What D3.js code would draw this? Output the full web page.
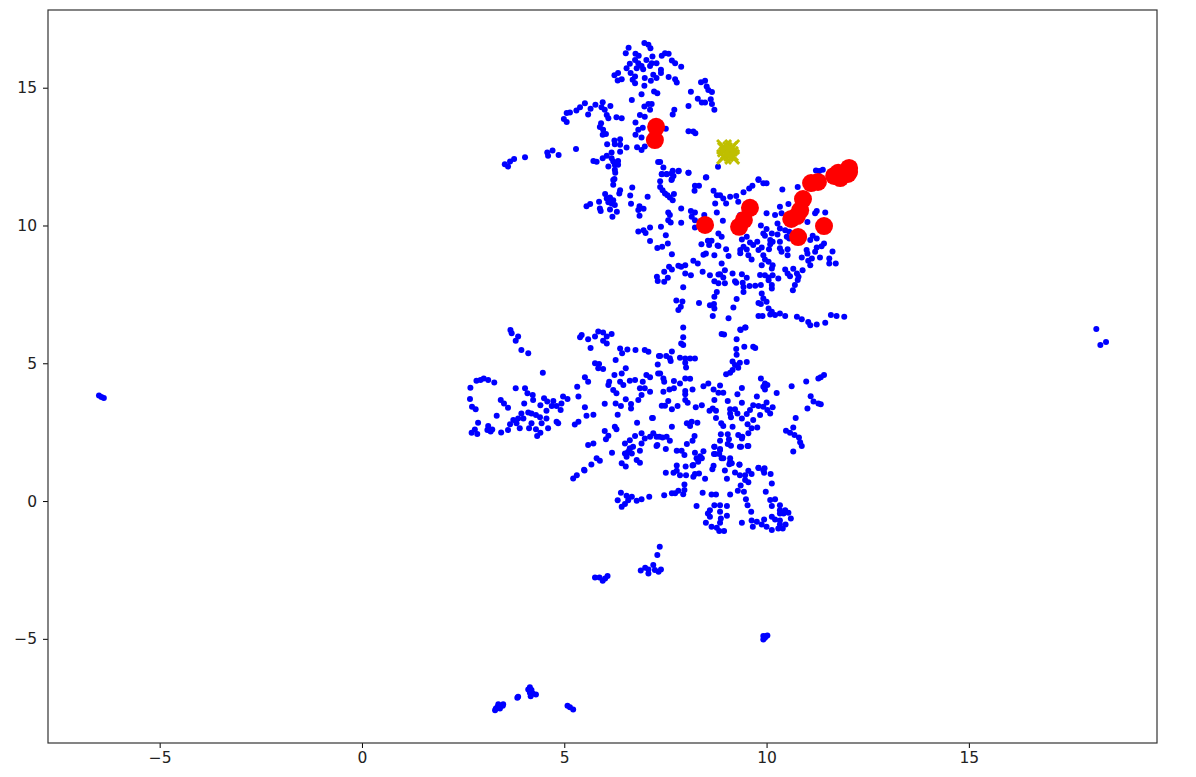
<!DOCTYPE html>
<html>
<head>
<meta charset="utf-8">
<script src="https://cdn.jsdelivr.net/npm/d3@7"></script>
<style>
body { margin: 0; background: #fff; }
text { font-family: "DejaVu Sans", sans-serif; }
</style>
</head>
<body>
<script>
// values, grouped by area of the plot
let xTicks = [-5, 0, 5, 10, 15];
let yTicks = [-5, 0, 5, 10, 15];

let outliers = [[-6.50,3.83],[-6.44,3.78],[-6.38,3.74],[18.15,6.24],[18.25,5.66],[18.39,5.77]];

let topGroup = [[6.98,16.62],[6.59,16.45],[7.08,16.56],[7.13,16.43],[6.52,16.25],[6.76,16.23],[6.84,16.16],[7.18,16.13],[6.75,16.01],[7.03,16.01],[7.16,15.89],[7.28,15.89],[6.62,15.87],[6.83,15.89],[6.91,15.79],[7.12,15.79],[6.54,15.71],[6.79,15.71],[6.95,15.67],[6.64,15.53],[6.75,15.41],[6.33,15.53],[6.24,15.45],[6.99,15.35],[7.20,15.47],[7.28,15.35],[6.69,15.29],[6.42,15.31],[6.32,15.26],[6.75,15.16],[7.14,15.25],[6.98,15.07],[6.91,14.76],[7.22,14.86],[7.30,14.80],[6.67,14.55],[7.16,14.41],[7.08,14.41],[6.98,14.32],[7.12,14.20],[6.87,14.01],[6.99,13.95],[6.76,13.74],[6.94,13.55],[6.83,13.47],[6.76,13.29],[6.91,13.19],[6.80,12.84],[6.91,12.74],[6.99,12.87],
[7.49,16.25],[7.58,16.23],[7.41,16.16],[7.66,15.99],[7.74,15.89],[7.89,15.76],[7.39,15.65],[7.39,15.53],[7.58,15.39],[7.74,15.31],[7.78,15.19],[8.38,15.20],[8.48,15.25],[8.52,15.04],[8.56,14.92],[8.65,14.84],[8.13,14.85],[8.30,14.60],[8.40,14.46],[8.48,14.46],[8.62,14.58],[8.65,14.41],[8.71,14.20],[8.07,14.34],[7.72,14.20],[7.68,14.03],[7.51,13.51],[8.07,13.42],[8.19,13.41],[8.24,13.35],[8.80,12.13],[7.37,12.30],[7.45,12.10],[7.41,11.87],[7.53,11.87],[7.68,11.99],[7.70,11.80],[7.83,11.99],[8.07,11.91],[8.51,11.75],[9.80,11.68],[11.39,12.02],[11.22,12.00],[11.30,11.98],[7.66,11.69]];

let upperLeftArm = [[5.51,14.44],[5.39,14.29],[5.30,14.17],[5.14,14.10],[5.06,14.08],[4.99,13.86],[5.06,13.76],[5.65,14.24],[5.77,14.38],[5.95,14.47],[5.92,14.29],[6.00,14.20],[6.14,14.34],[6.05,14.01],[6.09,13.89],[5.59,14.03],[6.29,13.93],[6.42,13.89],[5.91,13.71],[5.88,13.57],[5.96,13.47],[5.95,13.29],[6.03,13.32],[6.06,12.95],[6.24,13.08],[6.38,13.13],[6.25,12.95],[6.38,12.93],[6.54,12.83],[6.38,12.68],[6.17,12.65],[6.05,12.53],[5.95,12.44],[5.72,12.34],[5.80,12.31],[6.17,12.44],[6.21,12.32],[6.33,12.34],[6.09,12.14],[6.25,12.20],[6.33,12.20],[6.25,12.02],[6.24,11.69],[5.29,12.78],[4.86,12.56],[4.71,12.72],[4.58,12.65],[4.60,12.53],[4.03,12.48],[3.76,12.41],[3.66,12.32],[3.53,12.22],[3.61,12.14],[7.32,12.30]];

let midLeftGroup = [[6.26,11.91],[6.21,11.65],[6.21,11.48],[6.68,11.38],[6.38,11.28],[6.36,11.16],[6.63,11.09],[7.06,11.04],[6.01,11.14],[6.05,10.98],[6.13,11.02],[6.21,10.92],[5.86,10.86],[6.09,10.84],[6.17,10.80],[6.25,10.74],[5.64,10.78],[5.55,10.70],[5.88,10.62],[5.90,10.53],[6.13,10.58],[6.30,10.50],[6.19,10.32],[6.65,10.79],[6.86,10.70],[6.96,10.61],[6.83,10.56],[6.86,10.35],[7.12,9.93],[6.83,9.78],[6.96,9.83],[7.01,9.73],[7.39,9.95],[7.51,9.65],[7.12,9.44],[7.56,9.35],[7.30,9.18],[7.42,9.23],[7.66,8.96],[7.57,10.47],[7.61,10.38],[7.57,10.19],[7.63,10.11],[7.89,10.62],[7.89,10.10],[8.13,10.53],[8.23,10.47],[8.15,10.32],[8.23,10.19],[8.46,10.38],[8.23,9.93],[8.77,10.47],[7.41,11.86],[7.53,11.86],[7.65,11.89],[7.82,11.97],[8.07,11.91],[8.50,11.74],[7.65,11.65],[7.37,11.61],[7.37,11.40],[7.43,11.28],[7.49,11.16],[7.55,11.10],[7.71,11.14],[7.61,11.02],[7.68,10.92],[8.23,11.44],[8.33,11.44],[8.22,11.26],[8.69,11.26],[8.77,11.10],[8.73,10.80],[8.39,9.32],[8.55,9.45],[8.64,9.45],[8.58,9.29],[8.79,9.27],[8.44,8.94],[8.50,8.98],[8.71,8.92],[8.19,8.72],[8.30,8.62],[7.82,8.54],[7.99,8.56],[7.89,8.50],[7.59,8.50],[7.66,8.40],[7.47,8.32],[7.99,8.26],[8.13,8.19],[8.42,8.32],[8.60,8.19],[8.81,8.22],[7.29,8.14],[7.31,7.99],[7.56,8.10],[7.47,7.96],[8.71,7.98],[8.81,7.90],[7.94,7.76],[7.77,7.28],[7.92,7.24],[7.88,7.05],[7.82,6.93],[8.33,7.19],[8.77,7.59],[8.71,7.41],[8.60,7.11],[8.70,7.15],[8.71,6.99],[8.67,6.72]];

let midRightGroup = [[9.80,11.65],[9.92,11.53],[10.00,11.53],[9.65,11.44],[9.57,11.34],[9.43,11.21],[10.39,11.31],[10.77,11.40],[8.85,11.10],[8.93,10.98],[9.10,11.04],[9.25,11.07],[9.30,10.86],[9.00,10.80],[8.92,10.17],[9.35,10.38],[10.00,10.44],[10.21,10.38],[10.33,10.68],[10.54,10.78],[10.37,10.44],[11.24,10.53],[11.45,10.47],[11.20,10.44],[11.01,10.13],[10.27,10.07],[10.33,9.89],[9.86,10.00],[10.00,9.87],[9.92,9.71],[9.96,9.63],[10.13,9.71],[10.27,9.67],[10.46,9.83],[10.56,9.77],[10.50,9.59],[10.56,9.53],[9.39,9.49],[9.51,9.59],[9.59,9.38],[9.67,9.29],[9.77,9.41],[10.09,9.47],[10.15,9.41],[10.09,9.32],[10.33,9.41],[8.81,9.71],[8.89,9.59],[8.81,9.26],[9.00,9.14],[9.43,9.23],[9.35,9.11],[9.35,8.99],[9.51,9.13],[9.55,8.92],[9.63,8.77],[9.80,9.11],[9.88,9.20],[9.92,8.92],[10.06,9.14],[9.96,8.77],[10.05,8.68],[10.33,9.17],[10.37,9.05],[10.52,9.14],[10.52,8.92],[11.14,9.63],[11.24,9.53],[11.08,9.47],[11.42,9.35],[11.36,9.25],[11.24,9.20],[11.20,9.05],[10.99,9.11],[11.01,8.98],[10.87,8.84],[11.12,8.80],[11.03,8.72],[11.32,8.84],[11.63,9.06],[11.55,8.80],[11.55,8.62],[11.71,8.62],[11.08,8.56],[10.89,8.38],[10.46,8.40],[10.52,8.26],[10.58,8.16],[10.66,8.43],[10.75,8.26],[10.79,8.14],[10.77,8.02],[10.70,7.84],[10.65,7.65],[9.84,8.20],[9.96,8.19],[10.05,8.11],[10.15,8.19],[10.29,8.08],[10.05,8.01],[10.13,7.84],[10.13,7.71],[9.88,8.56],[10.15,8.56],[10.13,8.44],[9.39,8.23],[9.51,8.10],[9.41,7.92],[9.43,7.77],[9.58,7.80],[9.72,7.81],[9.86,7.84],[9.43,7.59],[9.26,7.33],[9.18,7.02],[9.06,6.63],[8.89,8.62],[9.06,8.89],[8.85,8.23],[8.97,8.38],[8.93,8.11],[8.97,7.90],[9.16,8.26],[9.22,7.98],[9.25,7.92],[9.88,7.53],[9.92,7.35],[9.80,7.19],[9.86,7.15],[10.00,7.23],[10.05,6.99],[10.13,6.87],[10.21,6.75],[10.33,6.81],[10.46,6.72],[9.80,6.72],[9.90,6.72],[10.09,6.77],[10.75,6.69],[10.87,6.60],[11.03,6.50],[11.08,6.38],[11.24,6.41],[11.45,6.47],[11.59,6.75],[11.73,6.72],[11.92,6.69],[9.47,6.30],[9.35,6.23]];

let lowerLeftGroup = [[3.67,6.21],[3.70,6.09],[3.86,5.97],[3.80,5.82],[3.94,5.48],[4.11,5.36],[4.47,4.66],[5.39,5.94],[5.43,6.03],[5.59,5.87],[5.76,5.97],[5.84,6.15],[5.96,6.12],[6.17,6.06],[6.05,5.97],[5.96,5.82],[6.05,5.72],[5.65,5.55],[5.76,5.00],[5.86,4.97],[5.84,4.82],[5.96,4.79],[6.27,5.12],[6.38,5.54],[6.43,5.36],[6.56,5.50],[6.76,5.48],[6.99,5.48],[7.08,5.42],[7.34,5.26],[7.31,4.96],[7.32,4.63],[6.52,4.82],[6.42,4.63],[6.24,4.57],[5.51,4.49],[5.59,4.33],[6.11,4.33],[6.09,4.21],[6.38,4.33],[6.46,4.21],[6.62,4.37],[6.75,4.39],[6.94,4.33],[7.03,4.57],[7.12,4.49],[6.87,4.09],[6.99,4.09],[7.12,3.97],[6.91,3.85],[6.83,3.67],[6.52,3.69],[6.65,3.52],[6.65,3.36],[6.21,4.03],[6.29,3.91],[5.32,4.15],[5.35,3.79],[6.00,3.53],[6.27,3.54],[6.40,3.45],[5.51,3.40],[5.55,3.10],[5.72,3.13],[6.32,3.13],[6.80,2.84],[7.17,3.01],[5.35,2.88],[5.26,2.78],[6.25,2.70],[6.29,2.61],[6.00,2.54],[6.09,2.37],[6.03,2.24],[5.59,2.03],[5.72,2.09],[6.18,1.75],[5.80,1.55],[5.88,1.46],[5.67,1.33],[5.49,1.14],[6.42,1.37],[6.52,1.25],[6.54,1.73],[6.62,1.91],[6.70,1.97],[6.50,2.09],[6.62,2.21],[6.75,2.36],[6.91,2.46],[6.99,2.27],[7.12,2.33],[6.91,2.09],[7.28,2.33],[7.28,2.00],[6.87,1.83],[6.79,1.49],[6.87,1.39],
[2.68,4.11],[2.67,3.70],[2.72,3.42],[2.81,3.33],[2.83,4.37],[2.93,4.39],[3.01,4.45],[3.12,4.39],[3.27,4.30],[3.80,4.09],[4.03,4.09],[4.09,3.91],[4.22,3.85],[4.23,3.67],[3.43,3.67],[3.51,3.54],[3.61,3.39],[4.01,3.54],[4.41,3.48],[4.50,3.73],[4.58,3.61],[4.73,3.63],[4.69,3.45],[4.81,3.45],[4.93,3.54],[4.97,3.79],[5.08,3.70],[4.91,3.30],[4.56,3.28],[3.33,3.10],[3.94,3.18],[4.11,3.21],[4.19,3.18],[4.30,3.12],[4.40,3.04],[4.56,3.00],[3.86,3.00],[3.99,3.00],[3.74,2.94],[3.66,2.79],[3.82,2.82],[4.19,2.82],[4.44,2.82],[4.60,2.64],[4.81,2.88],[4.85,2.82],[3.90,2.64],[3.61,2.58],[4.13,2.64],[4.30,2.61],[4.41,2.48],[4.33,2.36],[3.44,2.49],[2.87,2.84],[2.79,2.60],[2.71,2.48],[2.85,2.43],[3.12,2.72],[3.10,2.58],[3.22,2.60],[3.18,2.52]];

let lowerRightGroup = [[7.94,6.30],[7.94,5.94],[7.89,5.72],[7.94,5.66],[8.89,6.06],[8.95,6.04],[9.48,6.30],[9.36,6.21],[9.26,5.87],[9.45,5.60],[9.25,5.52],[9.67,5.60],[9.72,5.55],[9.26,5.31],[7.66,5.43],[7.37,5.26],[7.52,5.26],[7.61,5.18],[7.63,5.08],[7.86,5.20],[7.99,5.17],[8.11,5.17],[8.23,5.17],[7.99,5.02],[8.01,4.85],[9.16,5.06],[9.22,4.94],[9.34,5.02],[9.30,4.84],[9.51,5.05],[9.16,4.76],[9.10,4.66],[9.00,4.60],[7.37,4.63],[7.45,4.45],[7.47,4.33],[7.71,4.36],[7.86,4.27],[7.99,4.45],[8.11,4.44],[8.44,4.17],[8.56,4.27],[8.85,4.19],[8.69,4.05],[8.81,3.93],[8.93,3.93],[7.45,3.97],[7.60,4.05],[7.71,4.09],[7.99,3.99],[7.99,3.88],[8.17,4.05],[9.39,4.10],[9.28,3.88],[9.86,4.45],[9.96,4.27],[10.02,4.21],[9.92,4.15],[9.96,4.05],[10.25,3.92],[10.62,4.17],[10.98,4.34],[11.28,4.45],[11.34,4.49],[11.42,4.57],[8.71,3.67],[9.04,3.63],[9.39,3.57],[9.76,3.79],[7.57,3.63],[7.41,3.46],[7.49,3.46],[7.99,3.67],[8.05,3.57],[7.80,3.45],[7.66,3.33],[8.25,3.40],[8.40,3.48],[8.59,3.28],[8.67,3.36],[8.75,3.28],[9.10,3.33],[9.22,3.33],[9.10,3.18],[9.12,3.04],[9.28,3.18],[9.67,3.48],[9.80,3.45],[10.00,3.58],[9.92,3.42],[10.02,3.30],[10.15,3.40],[10.09,3.18],[9.84,3.12],[9.59,3.30],[9.51,3.16],[9.39,3.00],[9.67,2.94],[9.53,2.79],[9.63,2.64],[9.77,2.67],[9.55,2.46],[7.19,3.01],[8.75,3.01],[8.88,2.82],[8.93,2.72],[9.16,2.70],[7.66,2.70],[8.03,2.82],[8.15,2.88],[8.29,2.84],[8.11,2.72],[10.72,3.01],[10.66,2.67],[10.48,2.55],[10.58,2.48],[10.69,2.40],[10.80,2.31],[10.83,2.13],[10.87,2.00],[10.66,1.80],[11.09,3.80],[11.16,3.61],[11.28,3.54],[11.34,3.51],[11.01,3.36],[7.20,2.46],[7.35,2.33],[7.53,2.33],[7.43,2.31],[7.61,2.19],[7.30,2.03],[7.51,1.89],[8.22,2.36],[8.17,2.19],[8.03,2.07],[8.87,2.42],[8.85,2.19],[9.04,2.42],[9.07,2.24],[9.04,2.07],[9.12,2.01],[9.30,2.40],[9.39,2.27],[9.34,1.97],[9.53,2.00],[8.71,1.97],[8.85,1.89],[8.73,1.71],[8.89,1.55],[9.10,1.55],[9.08,1.34],[9.33,1.32],[7.78,1.83],[7.90,1.83],[7.97,1.67],[8.23,1.75],[8.44,1.81],[8.36,1.63],[8.27,1.55],[8.40,1.55],[8.31,1.43],[8.17,1.29],[8.00,1.25],[7.78,1.29],[8.69,1.28],[9.80,1.21],[9.95,1.19]];

let bottomGroup = [[5.22,0.82],[5.31,0.94],[5.50,1.11],[7.51,1.03],[7.70,1.03],[7.78,1.10],[7.86,0.94],[8.01,0.94],[8.19,0.88],[8.23,0.98],[8.33,1.00],[8.48,0.81],[8.66,1.15],[8.97,1.11],[9.02,0.81],[9.22,1.04],[9.34,0.94],[9.47,0.94],[9.55,1.10],[9.63,0.98],[9.47,0.76],[9.55,0.68],[9.80,1.20],[9.92,1.12],[9.94,1.03],[10.10,0.98],[10.13,0.64],[9.36,0.56],[9.29,0.37],[9.44,0.34],[9.98,0.34],[7.97,0.60],[7.97,0.40],[7.94,0.25],[7.82,0.37],[7.74,0.28],[7.66,0.28],[7.47,0.21],[7.10,0.16],[6.91,0.07],[6.79,0.01],[6.67,0.16],[6.40,0.30],[6.54,0.19],[6.58,0.03],[6.32,0.03],[6.50,-0.11],[6.42,-0.21],[8.42,0.30],[8.64,0.24],[8.75,0.24],[9.10,0.24],[8.27,-0.18],[9.49,0.07],[9.53,-0.15],[9.62,-0.39],[8.71,-0.15],[8.85,-0.15],[9.02,-0.18],[8.60,-0.33],[8.55,-0.45],[8.60,-0.57],[8.85,-0.39],[9.02,-0.53],[8.87,-0.63],[8.85,-0.79],[8.50,-0.79],[8.64,-0.93],[8.77,-0.97],[8.83,-1.09],[8.95,-1.09],[9.39,-0.79],[9.63,-0.71],[9.76,-0.75],[9.66,-0.93],[9.88,-0.85],[9.94,-0.67],[10.00,-0.93],[10.13,-1.05],[10.29,-1.00],[10.40,-1.00],[10.33,-0.85],[10.47,-0.85],[10.13,-0.57],[10.21,-0.67],[10.33,-0.71],[10.60,-0.63],[10.54,-0.42],[10.33,-0.15],[10.33,-0.33],[10.42,-0.45],[10.33,-0.45],[10.46,-0.33],[10.09,0.04],[10.21,0.07],[10.13,-0.18],[6.58,1.79],[6.50,1.73],[6.62,1.91],[6.67,1.73],[6.54,1.61],[9.10,1.43],[9.14,1.37],[9.33,1.33],[8.19,1.31],[8.93,1.55],[8.71,1.97],[8.85,1.85],[8.70,1.71],[8.83,1.71],[9.37,1.97],[9.55,2.00],[9.40,2.33]];

let islands = [[7.36,-1.66],[7.30,-1.96],[6.89,-2.52],[7.00,-2.42],[7.08,-2.48],[7.20,-2.32],[7.08,-2.63],[7.24,-2.50],[7.33,-2.57],[7.39,-2.48],[5.76,-2.77],[5.87,-2.77],[5.95,-2.89],[6.07,-2.72],[6.01,-2.81],[9.92,-4.90],[9.99,-4.90],[9.92,-5.02],[10.02,-4.88],[9.96,-4.96],[3.29,-7.59],[3.35,-7.47],[3.41,-7.53],[3.48,-7.43],[3.37,-7.37],[3.49,-7.37],[3.31,-7.53],[3.86,-7.10],[3.84,-7.14],[4.15,-6.76],[4.11,-6.84],[4.19,-6.86],[4.15,-6.96],[4.22,-6.98],[4.17,-7.08],[4.30,-7.02],[5.08,-7.43],[5.14,-7.48],[5.22,-7.56]];

let redPoints = [[7.27,13.58],[7.24,13.10],[8.48,10.02],[9.32,9.95],[9.44,10.20],[9.59,10.64],[10.78,9.58],[11.42,9.98],[10.61,10.24],[10.75,10.34],[10.83,10.55],[10.90,10.96],[11.10,11.54],[11.27,11.58],[11.67,11.80],[11.82,11.72],[11.77,11.91],[12.01,11.87],[12.04,12.09],[12.04,11.95]];

let yellowPoints = [[8.95,12.85],[9.15,12.85],[8.95,12.49],[9.15,12.49],[9.05,12.67],[8.97,12.75],[9.12,12.60],[9.00,12.58],[9.10,12.78]];

let width = 1196;
let height = 777;
let margin = { top: 10, left: 48, right: 39, bottom: 34 };

let svg = d3.select("body")
.append("svg")
.attr("width", width)
.attr("height", height)
.style("display", "block")

let xScale = d3.scaleLinear().domain([-7.76, 19.65]).range([margin.left, width - margin.right])
let yScale = d3.scaleLinear().domain([-8.78, 17.82]).range([height - margin.bottom, margin.top])

let bluePoints = [].concat(outliers, topGroup, upperLeftArm, midLeftGroup, midRightGroup,
    lowerLeftGroup, lowerRightGroup, bottomGroup, islands);

svg.selectAll("circle.blue")
.data(bluePoints)
.join("circle")
.attr("class", "blue")
.attr("cx", d => xScale(d[0]))
.attr("cy", d => yScale(d[1]))
.attr("r", 3)
.attr("fill", "#0000ff")

svg.selectAll("path.yellow")
.data(yellowPoints)
.join("path")
.attr("class", "yellow")
.attr("transform", d => `translate(${xScale(d[0])},${yScale(d[1])})`)
.attr("d", d3.symbol().type(d3.symbolTimes).size(130))
.attr("fill", "none")
.attr("stroke", "#bfbf00")
.attr("stroke-width", 3)

svg.selectAll("circle.red")
.data(redPoints)
.join("circle")
.attr("class", "red")
.attr("cx", d => xScale(d[0]))
.attr("cy", d => yScale(d[1]))
.attr("r", 9)
.attr("fill", "#ff0000")

let xAxis = d3.axisBottom(xScale).tickValues(xTicks).tickSize(5).tickPadding(4)
let yAxis = d3.axisLeft(yScale).tickValues(yTicks).tickSize(5).tickPadding(6)

svg.append("g")
.attr("transform", `translate(0,${height - margin.bottom})`)
.call(xAxis)
.call(g => g.selectAll("text").style("font-size", "15.5px").attr("fill", "#222"))
.call(g => g.select(".domain").remove())

svg.append("g")
.attr("transform", `translate(${margin.left},0)`)
.call(yAxis)
.call(g => g.selectAll("text").style("font-size", "15.5px").attr("fill", "#222"))
.call(g => g.select(".domain").remove())

svg.append("rect")
.attr("x", margin.left)
.attr("y", margin.top)
.attr("width", width - margin.left - margin.right)
.attr("height", height - margin.top - margin.bottom)
.attr("fill", "none")
.attr("stroke", "#333")
.attr("stroke-width", 1.2)
</script>
</body>
</html>
